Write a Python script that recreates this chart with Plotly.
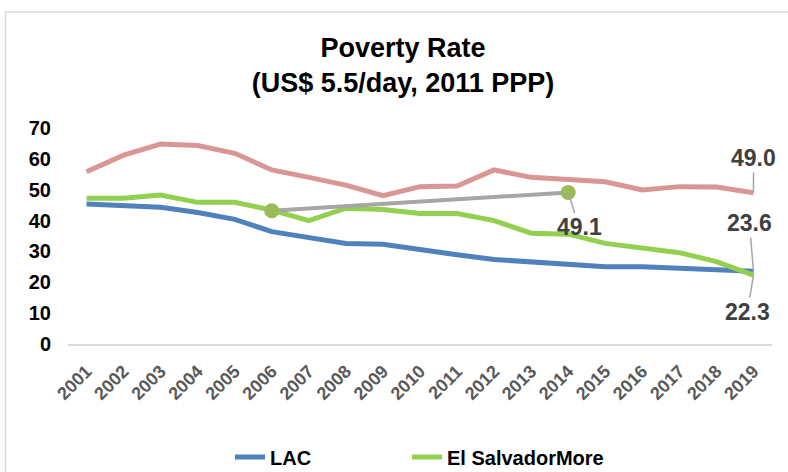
import plotly.graph_objects as go

# Poverty rate at US$ 5.5/day (2011 PPP), percent of population
years = [str(y) for y in range(2001, 2020)]
lac = [45.4, 45.0, 44.3, 42.6, 40.4, 36.4, 34.7, 32.6, 32.3, 30.5,
       28.9, 27.4, 26.7, 25.8, 25.0, 25.0, 24.4, 24.0, 23.6]
el_salvador = [47.2, 47.2, 48.3, 45.9, 45.9, 43.4, 40.0, 44.0, 43.6, 42.3,
               42.3, 40.0, 35.9, 35.6, 32.6, 31.3, 29.6, 26.7, 22.3]
third_series = [55.8, 61.2, 64.8, 64.3, 61.8, 56.4, 54.0, 51.5, 48.1, 51.0,
                51.2, 56.4, 54.0, 53.1, 52.6, 49.9, 51.0, 50.9, 49.0]
link_years = ["2006", "2014"]
link_values = [43.2, 49.1]

# value labels: (year, value, text, x offset px, y offset px)
value_labels = [
    ("2019", third_series[-1], "49.0", 0, -35),
    ("2014", link_values[-1], "49.1", 11, 35),
    ("2019", lac[-1], "23.6", -4, -48),
    ("2019", el_salvador[-1], "22.3", -6, 37),
]

FONT = "Liberation Sans, Arial, sans-serif"

fig = go.Figure()
fig.add_trace(go.Scatter(x=years, y=lac, name="LAC", mode="lines",
                         line=dict(color="#4F81BD", width=5), legend="legend"))
fig.add_trace(go.Scatter(x=years, y=el_salvador, name="El SalvadorMore",
                         mode="lines", line=dict(color="#92D050", width=5),
                         legend="legend2"))
fig.add_trace(go.Scatter(x=years, y=third_series, mode="lines", showlegend=False,
                         line=dict(color="#D99694", width=5)))
fig.add_trace(go.Scatter(x=link_years, y=link_values, mode="lines+markers",
                         showlegend=False,
                         line=dict(color="#A6A6A6", width=4),
                         marker=dict(color="#9BBB59", size=15)))

for yr, val, txt, ax, ay in value_labels:
    fig.add_annotation(x=years.index(yr), y=val, xref="x", yref="y",
                       text=txt, showarrow=True,
                       arrowhead=0, arrowwidth=1.5, arrowcolor="#A6A6A6",
                       ax=ax, ay=ay, standoff=0,
                       font=dict(family=FONT, size=23, color="#404040",
                                 weight="bold"))

# outer chart frame
fig.add_shape(type="rect", xref="paper", yref="paper",
              x0=-0.0888, x1=1.03, y0=-0.62, y1=1.537,
              line=dict(color="#D9D9D9", width=1.5), fillcolor="rgba(0,0,0,0)",
              layer="below")

legend_style = dict(orientation="h", xanchor="left", yanchor="middle",
                    y=-(457 - 344) / 216, bgcolor="rgba(0,0,0,0)",
                    font=dict(family=FONT, size=20, color="black",
                              weight="bold"))

fig.update_layout(
    width=788, height=472,
    margin=dict(l=68, r=16, t=128, b=128, autoexpand=False),
    paper_bgcolor="white", plot_bgcolor="white",
    font=dict(family=FONT, color="black"),
    title=dict(text="Poverty Rate<br>(US$ 5.5/day, 2011 PPP)",
               x=403 / 788, xanchor="center", xref="container",
               y=1 - 57 / 472, yanchor="top", yref="container",
               font=dict(family=FONT, size=27, color="black", weight="bold")),
    xaxis=dict(type="category", showgrid=False, showline=True,
               linecolor="#D9D9D9", linewidth=1.5, ticks="",
               tickangle=-45, automargin=False, ticklabelstandoff=8,
               tickfont=dict(family=FONT, size=18, color="#595959",
                             weight="bold"),
               range=[-0.5, 18.5]),
    yaxis=dict(range=[0, 70], dtick=10, showgrid=False, zeroline=False,
               showline=False, ticks="", ticklabelstandoff=16,
               automargin=False,
               tickfont=dict(family=FONT, size=20, color="black",
                             weight="bold")),
    legend=dict(legend_style, x=(230 - 68) / 704),
    legend2=dict(legend_style, x=(407 - 68) / 704),
    showlegend=True,
)

fig.write_html("out.html")
